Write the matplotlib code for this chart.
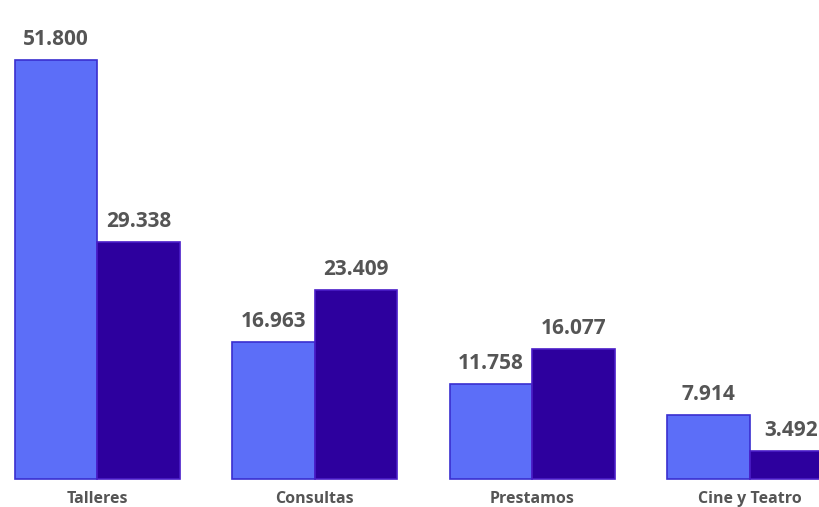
import matplotlib.pyplot as plt
import numpy as np

categorias = ["Talleres", "Consultas", "Prestamos", "Cine y Teatro"]
serie_a = [51.800, 16.963, 11.758, 7.914]
serie_b = [29.338, 23.409, 16.077, 3.492]
etiquetas_a = ["51.800", "16.963", "11.758", "7.914"]
etiquetas_b = ["29.338", "23.409", "16.077", "3.492"]


def main():
    plt.rcParams['font.family'] = ['Open Sans', 'DejaVu Sans']
    fig = plt.figure(figsize=(8.19, 5.07), dpi=100)
    ax = fig.add_axes([0, 0, 1, 1])

    x = np.arange(len(categorias))
    w = 0.38
    ax.bar(x - w / 2, serie_a, width=w, color='#5c6ef8', edgecolor='#3a2fd0', linewidth=1.2)
    ax.bar(x + w / 2, serie_b, width=w, color='#2d009e', edgecolor='#4a1ec8', linewidth=1.2)

    # etiquetas de valores
    for i in range(len(categorias)):
        ax.text(x[i] - w / 2, serie_a[i] + 1.2, etiquetas_a[i], ha='center', va='bottom',
                fontsize=15, fontweight='bold', color='#555555')
        ax.text(x[i] + w / 2, serie_b[i] + 1.2, etiquetas_b[i], ha='center', va='bottom',
                fontsize=15, fontweight='bold', color='#555555')
        ax.text(x[i], -1.5, categorias[i], ha='center', va='top',
                fontsize=11.5, fontweight='bold', color='#555555')

    ax.set_xlim(-0.447, 3.318)
    ax.set_ylim(-3.46, 59.22)
    ax.axis('off')
    fig.savefig("out.png", dpi=100, facecolor='white')


if __name__ == "__main__":
    main()
